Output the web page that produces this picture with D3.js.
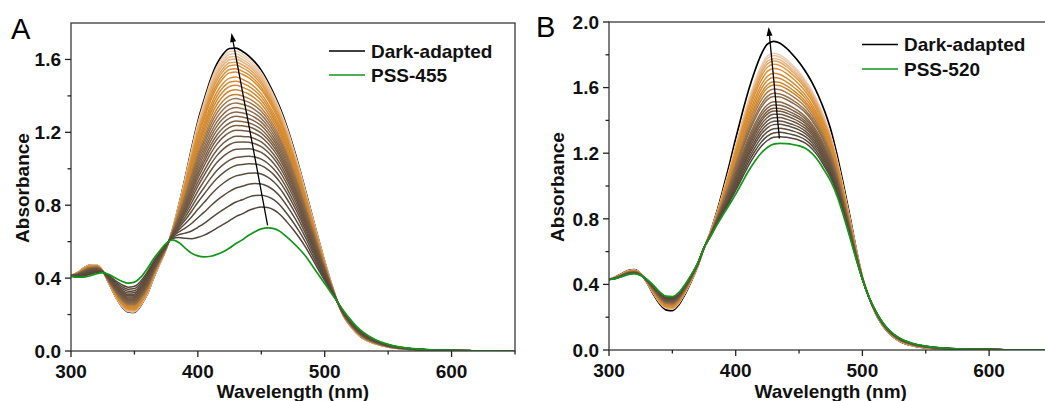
<!DOCTYPE html>
<html><head><meta charset="utf-8">
<script src="https://cdn.jsdelivr.net/npm/d3@7"></script>
<style>body{margin:0;background:#fff}svg{display:block}text{font-family:"Liberation Sans",Arial,sans-serif}</style>
</head><body><svg id="c" width="1045" height="401"></svg>
<script>
// ---------- data ----------
const wavelengths = [300,305,310,315,320,325,330,335,340,345,350,355,360,365,370,375,380,385,390,395,400,405,410,415,420,425,430,435,440,445,450,455,460,465,470,475,480,485,490,495,500,505,510,515,520,525,530,540,550,560,570,580,600,620,650];

// Panel A
const darkA = [0.415,0.43,0.455,0.472,0.472,0.44,0.37,0.30,0.245,0.215,0.212,0.25,0.31,0.40,0.48,0.56,0.665,0.80,0.95,1.11,1.26,1.38,1.49,1.575,1.63,1.66,1.662,1.645,1.62,1.585,1.54,1.48,1.41,1.33,1.235,1.125,1.005,0.875,0.745,0.615,0.49,0.375,0.27,0.19,0.14,0.10,0.07,0.04,0.022,0.013,0.008,0.005,0.002,0.001,0.0];
const pssA = [0.41,0.405,0.405,0.413,0.423,0.43,0.42,0.40,0.383,0.372,0.378,0.405,0.45,0.505,0.55,0.59,0.61,0.595,0.565,0.537,0.522,0.517,0.52,0.53,0.545,0.565,0.59,0.61,0.635,0.655,0.67,0.676,0.672,0.655,0.626,0.595,0.56,0.52,0.47,0.42,0.37,0.32,0.27,0.22,0.175,0.135,0.105,0.062,0.036,0.021,0.013,0.008,0.003,0.001,0.0];
const peaksA = [0.79,0.855,0.919,0.977,1.028,1.069,1.11,1.147,1.178,1.211,1.238,1.262,1.288,1.312,1.336,1.361,1.385,1.408,1.434,1.458,1.481,1.503,1.531,1.549,1.569,1.585,1.602,1.616,1.631,1.646];

// Panel B
const darkB = [0.43,0.445,0.465,0.485,0.49,0.465,0.41,0.34,0.28,0.245,0.24,0.275,0.34,0.42,0.51,0.62,0.72,0.84,0.98,1.13,1.29,1.44,1.58,1.70,1.80,1.865,1.882,1.87,1.84,1.80,1.755,1.70,1.635,1.555,1.46,1.345,1.19,1.01,0.82,0.62,0.445,0.325,0.23,0.16,0.11,0.075,0.05,0.025,0.013,0.008,0.005,0.004,0.002,0.001,0.0];
const pssB = [0.43,0.435,0.447,0.46,0.465,0.455,0.43,0.395,0.355,0.328,0.325,0.35,0.40,0.46,0.53,0.625,0.69,0.76,0.825,0.885,0.95,1.02,1.09,1.15,1.20,1.235,1.255,1.26,1.258,1.253,1.245,1.23,1.20,1.155,1.095,1.03,0.94,0.82,0.69,0.555,0.43,0.325,0.245,0.18,0.13,0.095,0.07,0.04,0.024,0.014,0.009,0.006,0.003,0.001,0.0];
const peaksB = [1.301,1.327,1.352,1.376,1.396,1.417,1.437,1.457,1.474,1.494,1.514,1.545,1.565,1.591,1.616,1.636,1.661,1.687,1.717,1.742,1.762,1.778,1.795,1.809];

const xTicks = [300,400,500,600];
const xMinor = [350,450,550,650];
const yTicksA = [0,0.4,0.8,1.2,1.6];
const yMinorA = [0.2,0.6,1.0,1.4];
const yTicksB = [0,0.4,0.8,1.2,1.6,2.0];
const yMinorB = [0.2,0.6,1.0,1.4,1.8];
const legendA = ["Dark-adapted","PSS-455"];
const legendB = ["Dark-adapted","PSS-520"];
const arrowA = [[455,0.69],[426.5,1.745]];
const arrowB = [[434.5,1.29],[426,1.97]];

// ---------- drawing ----------
const svg = d3.select("#c");
const colorScale = d3.scaleLinear()
  .domain([0,0.3,0.55,0.6,0.8,0.9,1])
  .range(["#54463a","#735a43","#9a7550","#cc8632","#db8f30","#e5b27f","#ecd0b8"])
  .interpolate(d3.interpolateRgb);

function mixCurve(dark, pss, peak){
  let lo=0, hi=1;
  for(let k=0;k<40;k++){
    const m=(lo+hi)/2;
    const mx=d3.max(dark,(d,i)=>pss[i]+m*(d-pss[i]));
    if(mx<peak) lo=m; else hi=m;
  }
  const f=(lo+hi)/2;
  return dark.map((d,i)=>pss[i]+f*(d-pss[i]));
}

function panel(c){
  const g = svg.append("g");
  const x = d3.scaleLinear().domain([300,650]).range([c.left,c.right]);
  const y = d3.scaleLinear().domain([0,c.yMax]).range([c.bottom,c.top]);
  const line = d3.line().x((d,i)=>x(wavelengths[i])).y(d=>y(d)).curve(d3.curveMonotoneX);
  const clipId = "clip"+c.letter;
  svg.append("clipPath").attr("id",clipId).append("rect")
    .attr("x",c.left).attr("y",c.top).attr("width",c.right-c.left).attr("height",c.bottom-c.top);
  const plot = g.append("g").attr("clip-path",`url(#${clipId})`);

  plot.append("path").attr("d",line(c.dark)).attr("fill","none").attr("stroke","#000").attr("stroke-width",1.7);
  const n = c.peaks.length;
  const curves = c.peaks.map((p,i)=>({t:i/(n-1), v:mixCurve(c.dark,c.pss,p)}));
  curves.slice().reverse().forEach(cv=>{
    plot.append("path").attr("d",line(cv.v)).attr("fill","none")
      .attr("stroke",colorScale(cv.t)).attr("stroke-width",1.5);
  });
  plot.append("path").attr("d",line(c.pss)).attr("fill","none").attr("stroke","#14961a").attr("stroke-width",1.7);

  // arrow
  const [p0,p1]=c.arrow;
  const x0=x(p0[0]),y0=y(p0[1]),x1=x(p1[0]),y1=y(p1[1]);
  const dx=x1-x0, dy=y1-y0, L=Math.hypot(dx,dy), ux=dx/L, uy=dy/L;
  const hl=9, hw=3;
  g.append("line").attr("x1",x0).attr("y1",y0).attr("x2",x1-ux*hl*0.8).attr("y2",y1-uy*hl*0.8)
    .attr("stroke","#000").attr("stroke-width",1.3);
  const bx=x1-ux*hl, by=y1-uy*hl;
  g.append("path").attr("d",`M${x1},${y1}L${bx-uy*hw},${by+ux*hw}L${bx+uy*hw},${by-ux*hw}Z`).attr("fill","#000");

  // frame
  g.append("rect").attr("x",c.left).attr("y",c.top).attr("width",c.right-c.left).attr("height",c.bottom-c.top)
    .attr("fill","none").attr("stroke","#3a3a3a").attr("stroke-width",1.3);

  // axes ticks
  const ax = g.append("g").attr("stroke","#222").attr("stroke-width",1.3);
  c.yTicks.forEach(v=>ax.append("line").attr("x1",c.left-6).attr("x2",c.left).attr("y1",y(v)).attr("y2",y(v)));
  c.yMinor.forEach(v=>ax.append("line").attr("x1",c.left-3.5).attr("x2",c.left).attr("y1",y(v)).attr("y2",y(v)));
  xTicks.forEach(v=>ax.append("line").attr("x1",x(v)).attr("x2",x(v)).attr("y1",c.bottom).attr("y2",c.bottom+6));
  xMinor.forEach(v=>ax.append("line").attr("x1",x(v)).attr("x2",x(v)).attr("y1",c.bottom).attr("y2",c.bottom+3.5));

  const fmt = d3.format(".1f");
  c.yTicks.forEach(v=>g.append("text").attr("x",c.left-10).attr("y",y(v)+6.8).attr("text-anchor","end")
    .attr("font-size",19).attr("font-weight","bold").attr("fill","#111").text(fmt(v)));
  xTicks.forEach(v=>g.append("text").attr("x",x(v)).attr("y",c.bottom+26.5).attr("text-anchor","middle")
    .attr("font-size",19).attr("font-weight","bold").attr("fill","#111").text(v));

  g.append("text").attr("x",(x(300)+x(650))/2).attr("y",397.5).attr("text-anchor","middle")
    .attr("font-size",19).attr("font-weight","bold").attr("fill","#111").text("Wavelength (nm)");
  g.append("text").attr("transform",`translate(${c.ylabX},${(c.top+c.bottom)/2+1}) rotate(-90)`).attr("text-anchor","middle")
    .attr("font-size",19).attr("font-weight","bold").attr("fill","#111").text("Absorbance");

  g.append("text").attr("x",c.letterX).attr("y",c.letterY).attr("font-size",29).attr("fill","#000").text(c.letter);

  // legend
  const cols=["#000","#14961a"];
  c.legend.forEach((t,i)=>{
    const ly=c.legY[i];
    g.append("line").attr("x1",c.legX).attr("x2",c.legX+36).attr("y1",ly).attr("y2",ly).attr("stroke",cols[i]).attr("stroke-width",1.6);
    g.append("text").attr("x",c.legX+42).attr("y",ly+6.5).attr("font-size",19).attr("font-weight","bold").attr("fill","#111").text(t);
  });
}

panel({letter:"A",left:71,right:515,top:23,bottom:351,yMax:1.8,dark:darkA,pss:pssA,peaks:peaksA,
  yTicks:yTicksA,yMinor:yMinorA,arrow:arrowA,legend:legendA,legX:329,legY:[51,75],
  ylabX:28.5,letterX:11,letterY:39});
panel({letter:"B",left:609,right:609+350*1.267,top:22,bottom:350,yMax:2.0,dark:darkB,pss:pssB,peaks:peaksB,
  yTicks:yTicksB,yMinor:yMinorB,arrow:arrowB,legend:legendB,legX:862,legY:[44.5,69],
  ylabX:564,letterX:536,letterY:37});
</script></body></html>
